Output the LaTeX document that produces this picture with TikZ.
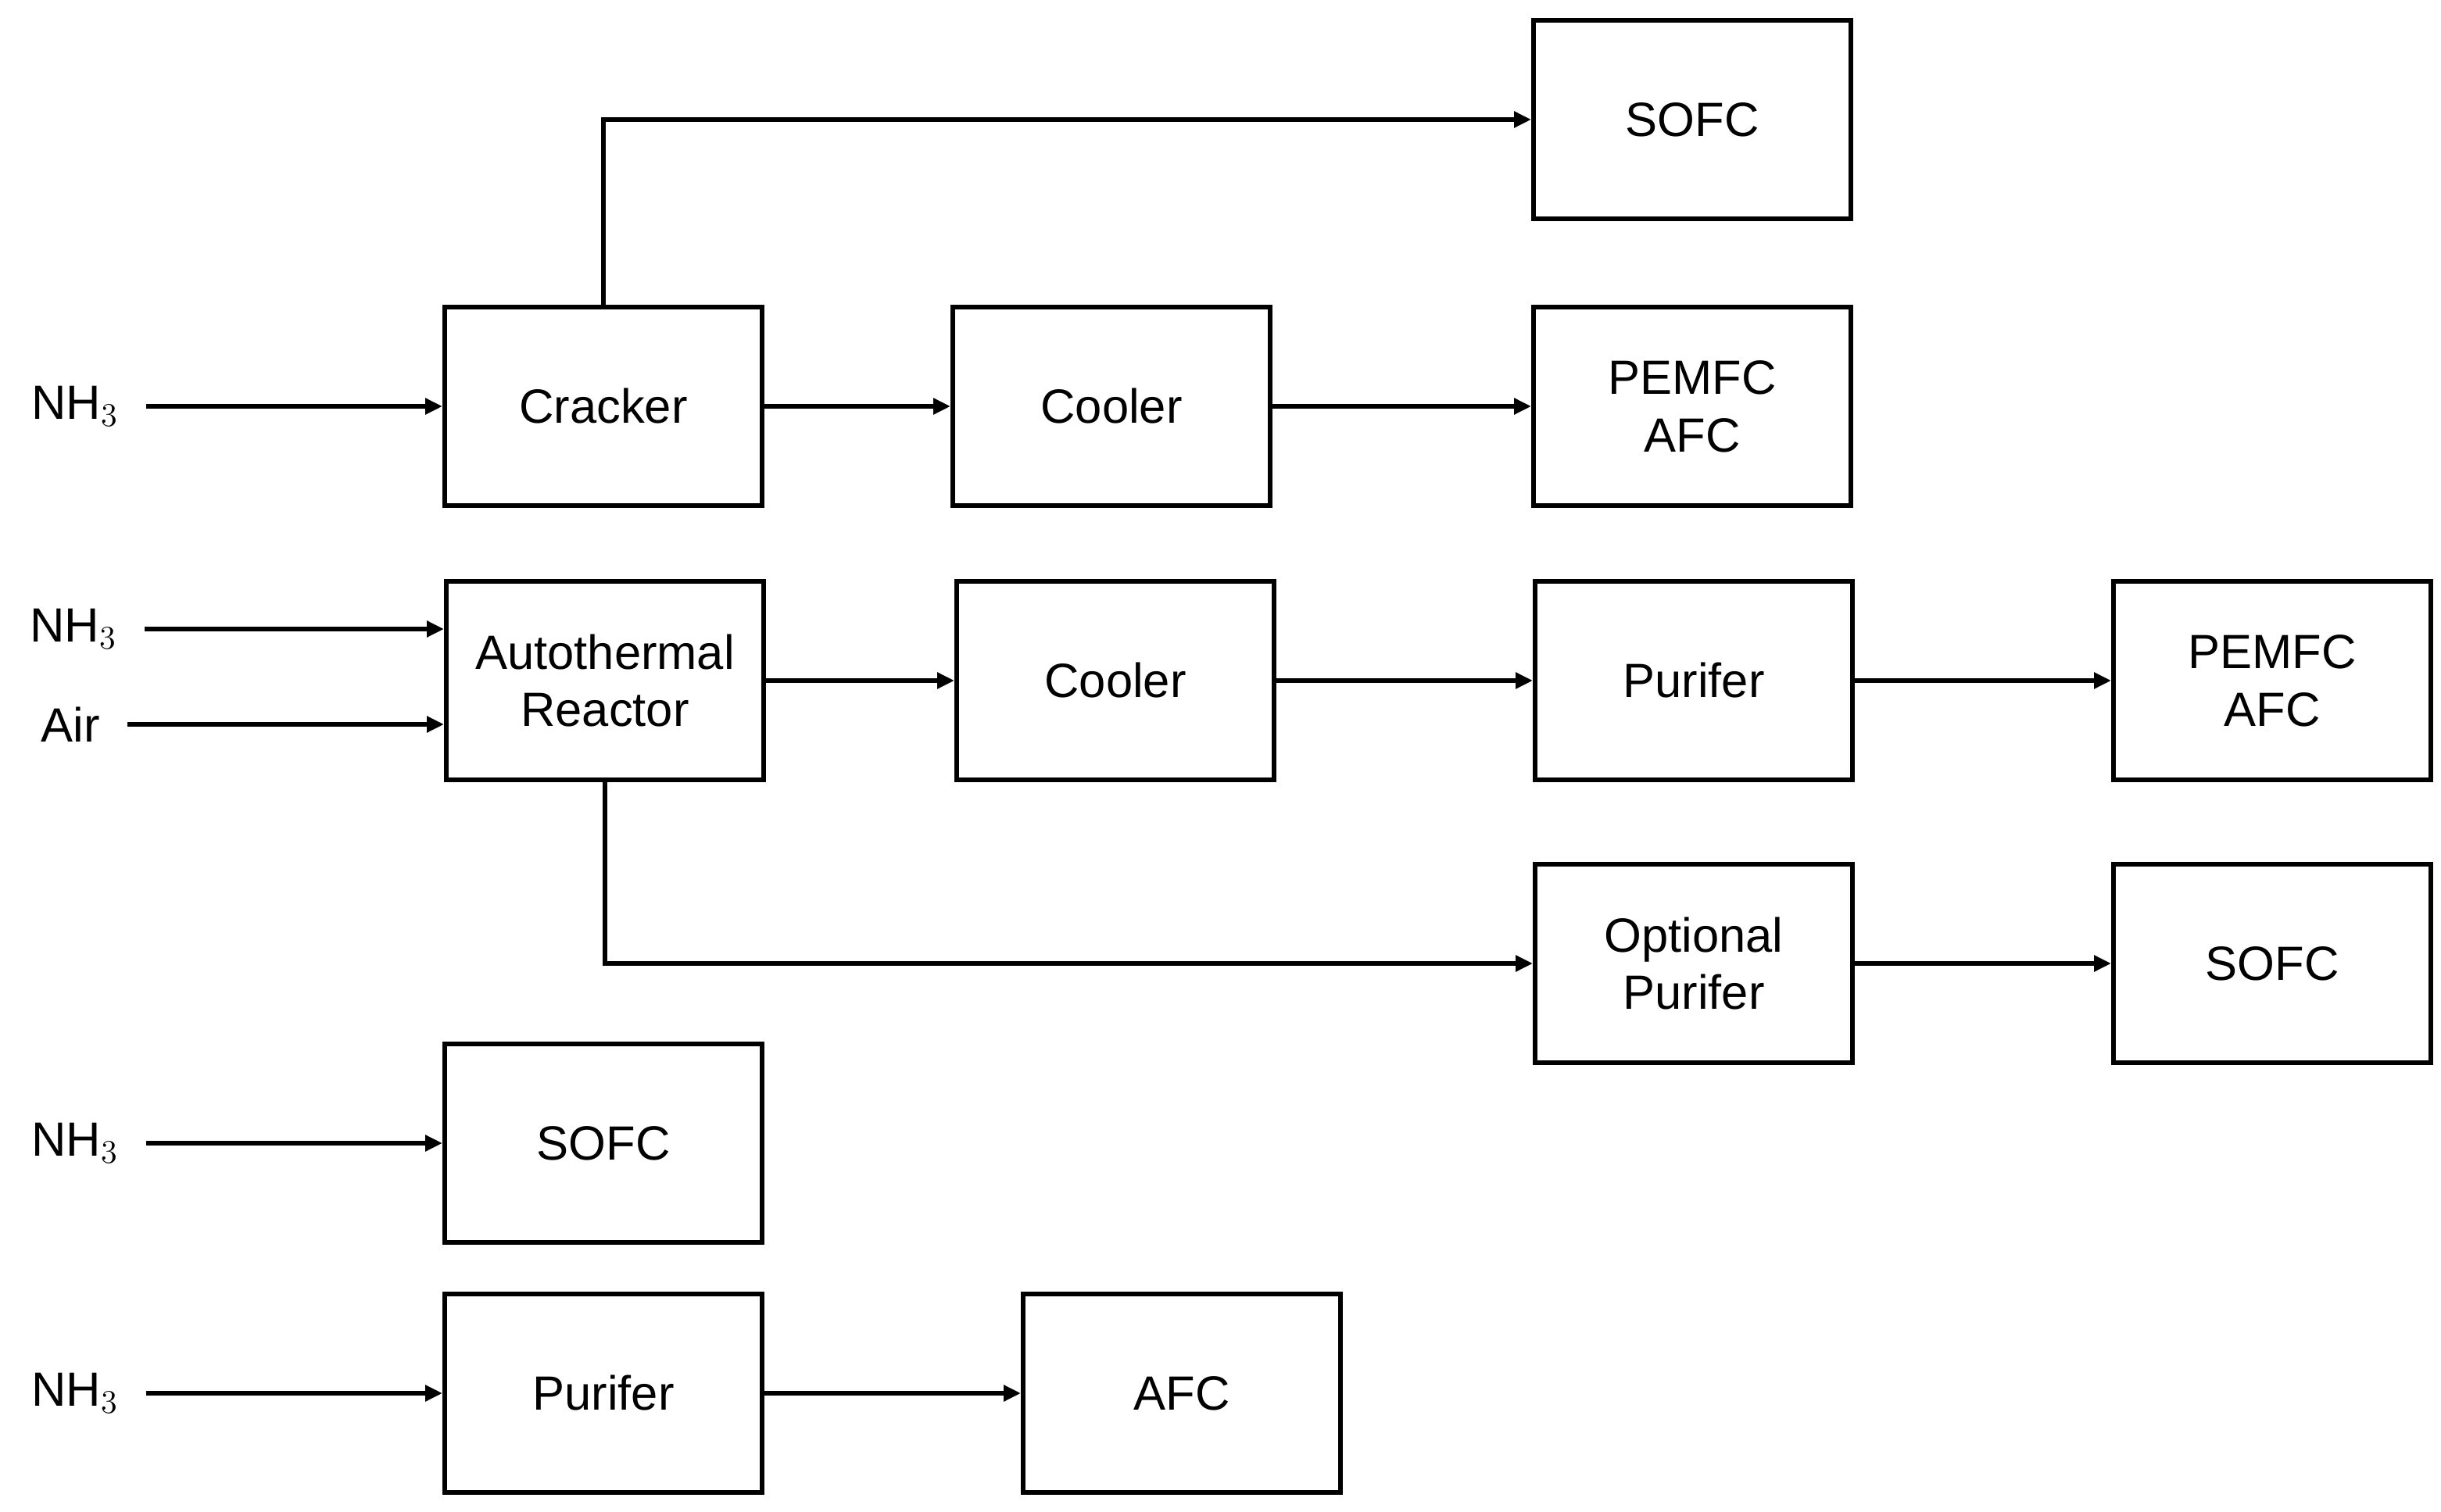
\documentclass[tikz,border=0pt]{standalone}
\usepackage{fontspec}
\setmainfont{Liberation Sans}
\usetikzlibrary{positioning, arrows.meta}

\begin{document}
\begin{tikzpicture}[
    unit/.style={rectangle, draw=black, line width=1.7pt, minimum width=4.06cm,
        minimum height=2.54cm, align=center, text=black,
        font=\fontsize{17.5}{21}\selectfont},
    feed/.style={draw=none, inner sep=0.35cm, font=\fontsize{17.5}{21}\selectfont},
    flow/.style={line width=1.7pt, -{Triangle[length=0.22cm, width=0.2cm]}}
]
\useasboundingbox (0,0) rectangle (31.23,-19.35);

% boxes
\node (SofcA) [unit] at (21.65,-1.53) {SOFC};
\node (Cracker) [unit] at (7.72,-5.2) {Cracker};
\node (CoolA) [unit] at (14.22,-5.2) {Cooler};
\node (PemA) [unit] at (21.65,-5.2) {PEMFC\\AFC};
\node (Atr) [unit] at (7.74,-8.71) {Autothermal\\Reactor};
\node (CoolB) [unit] at (14.27,-8.71) {Cooler};
\node (PurB) [unit] at (21.67,-8.71) {Purifer};
\node (PemB) [unit] at (29.07,-8.71) {PEMFC\\AFC};
\node (OptP) [unit] at (21.67,-12.33) {Optional\\Purifer};
\node (SofcB) [unit] at (29.07,-12.33) {SOFC};
\node (SofcC) [unit] at (7.72,-14.63) {SOFC};
\node (PurC) [unit] at (7.72,-17.83) {Purifer};
\node (AfcC) [unit] at (15.12,-17.83) {AFC};

% feeds
\node (NhA) [feed] at (0.96,-5.2) {NH$_3$};
\node (NhB) [feed] at (0.94,-8.05) {NH$_3$};
\node (AirB) [feed] at (0.9,-9.27) {Air};
\node (NhC) [feed] at (0.96,-14.63) {NH$_3$};
\node (NhD) [feed] at (0.96,-17.83) {NH$_3$};

% connectors
\draw[flow] (NhA) -- (Cracker);
\draw[flow] (Cracker) -- (CoolA);
\draw[flow] (CoolA) -- (PemA);
\draw[flow] (Cracker.north) |- (SofcA.west);
\draw[flow] (NhB.east) -- (Atr.west|-NhB.east);
\draw[flow] (AirB.east) -- (Atr.west|-AirB.east);
\draw[flow] (Atr) -- (CoolB);
\draw[flow] (CoolB) -- (PurB);
\draw[flow] (PurB) -- (PemB);
\draw[flow] (Atr.south) |- (OptP.west);
\draw[flow] (OptP) -- (SofcB);
\draw[flow] (NhC) -- (SofcC);
\draw[flow] (NhD) -- (PurC);
\draw[flow] (PurC) -- (AfcC);
\end{tikzpicture}
\end{document}
